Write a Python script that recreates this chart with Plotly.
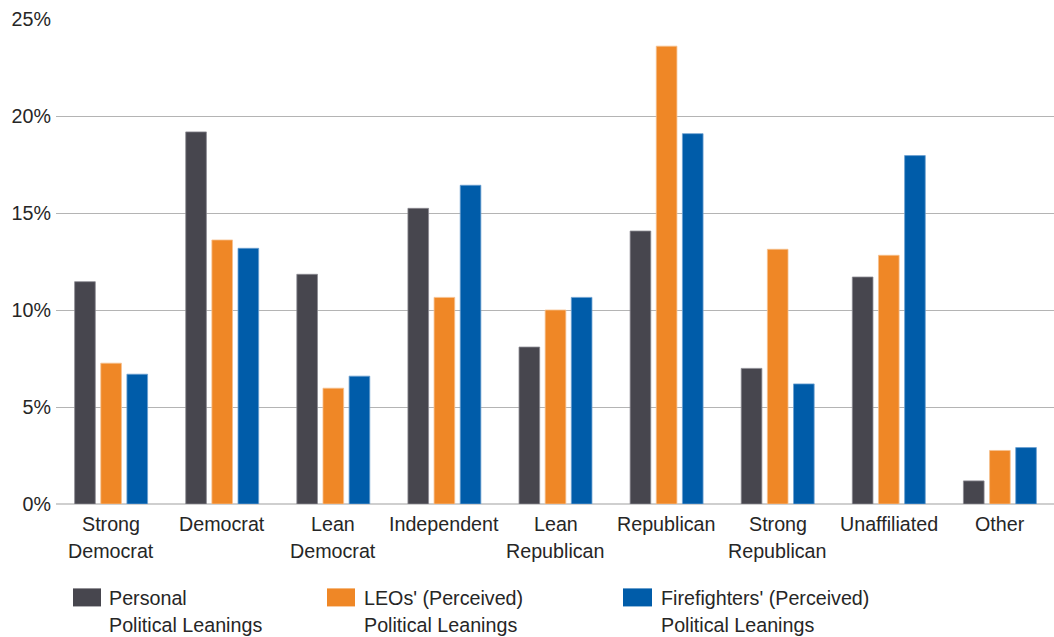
import plotly.graph_objects as go

# Category lines (two-line labels drawn as separate rows)
categories = ["Strong Democrat", "Democrat", "Lean Democrat", "Independent",
              "Lean Republican", "Republican", "Strong Republican",
              "Unaffiliated", "Other"]
label_line1 = ["Strong", "Democrat", "Lean", "Independent", "Lean",
               "Republican", "Strong", "Unaffiliated", "Other"]
label_line2 = ["Democrat", "", "Democrat", "", "Republican",
               "", "Republican", "", ""]

personal = [11.46, 19.18, 11.84, 15.24, 8.09, 14.07, 6.99, 11.70, 1.19]
leos = [7.26, 13.61, 5.97, 10.65, 10.00, 23.60, 13.13, 12.82, 2.76]
firefighters = [6.69, 13.18, 6.59, 16.43, 10.65, 19.09, 6.19, 17.96, 2.91]

series_names = [("Personal", "Political Leanings"),
                ("LEOs' (Perceived)", "Political Leanings"),
                ("Firefighters' (Perceived)", "Political Leanings")]
colors = ["#47464e", "#ef8726", "#005ca9"]
edge_colors = ["#8a8990", "#f6c08e", "#6b9fd0"]

y_ticks = [0, 5, 10, 15, 20, 25]
y_tick_text = ["0%", "5%", "10%", "15%", "20%", "25%"]

FONT = "Liberation Sans, Arial, sans-serif"
TEXT = "#262626"
FS = 19.7

fig = go.Figure()
for values, (n1, n2), c, ec in zip([personal, leos, firefighters],
                                   series_names, colors, edge_colors):
    fig.add_trace(go.Bar(
        x=categories, y=values, name=f"{n1} {n2}",
        marker=dict(color=c, line=dict(color=ec, width=0.8)),
        showlegend=False,
    ))

# Two-line category labels under the axis
annotations = []
for cat, l1, l2 in zip(categories, label_line1, label_line2):
    annotations.append(dict(x=cat, xref="x", y=0, yref="paper", text=l1,
                            showarrow=False, yanchor="middle", yshift=-20,
                            font=dict(family=FONT, size=FS, color=TEXT)))
    if l2:
        annotations.append(dict(x=cat, xref="x", y=0, yref="paper", text=l2,
                                showarrow=False, yanchor="middle", yshift=-47,
                                font=dict(family=FONT, size=FS, color=TEXT)))

# Legend: swatch + two text rows per series (pixel layout converted to paper)
PL, PW = 56.0, 998.0
PB, PH = 503.7, 484.4


def px_x(px):
    return (px - PL) / PW


def px_y(py):
    return (PB - py) / PH


shapes = []
legend_pos = [(73, 101, 107), (327, 355, 362), (623, 652, 659)]
for (sx0, sx1, tx), (n1, n2), c in zip(legend_pos, series_names, colors):
    shapes.append(dict(type="rect", xref="paper", yref="paper",
                       x0=px_x(sx0), x1=px_x(sx1), y0=px_y(606), y1=px_y(588),
                       fillcolor=c, line=dict(width=0)))
    annotations.append(dict(x=px_x(tx), xref="paper", y=px_y(598), yref="paper",
                            text=n1, showarrow=False, xanchor="left",
                            yanchor="middle",
                            font=dict(family=FONT, size=FS, color=TEXT)))
    annotations.append(dict(x=px_x(tx), xref="paper", y=px_y(625), yref="paper",
                            text=n2, showarrow=False, xanchor="left",
                            yanchor="middle",
                            font=dict(family=FONT, size=FS, color=TEXT)))

fig.update_layout(
    width=1054, height=637,
    margin=dict(l=56, r=0, t=19, b=133),
    paper_bgcolor="white", plot_bgcolor="white",
    barmode="group", bargap=0.294, bargroupgap=0.21,
    font=dict(family=FONT, size=FS, color=TEXT),
    xaxis=dict(showticklabels=False, showgrid=False, zeroline=False,
               showline=False, ticks="", range=[-0.496, 8.487]),
    yaxis=dict(range=[0, 25], tickvals=y_ticks, ticktext=y_tick_text,
               showgrid=True, gridcolor="#b4b4b4", gridwidth=1.3,
               zeroline=True, zerolinecolor="#cfcfcf", zerolinewidth=2,
               showline=False, ticks="", ticklabelstandoff=4,
               tickfont=dict(family=FONT, size=FS, color=TEXT)),
    annotations=annotations,
    shapes=shapes,
)

fig.write_html("out.html")
